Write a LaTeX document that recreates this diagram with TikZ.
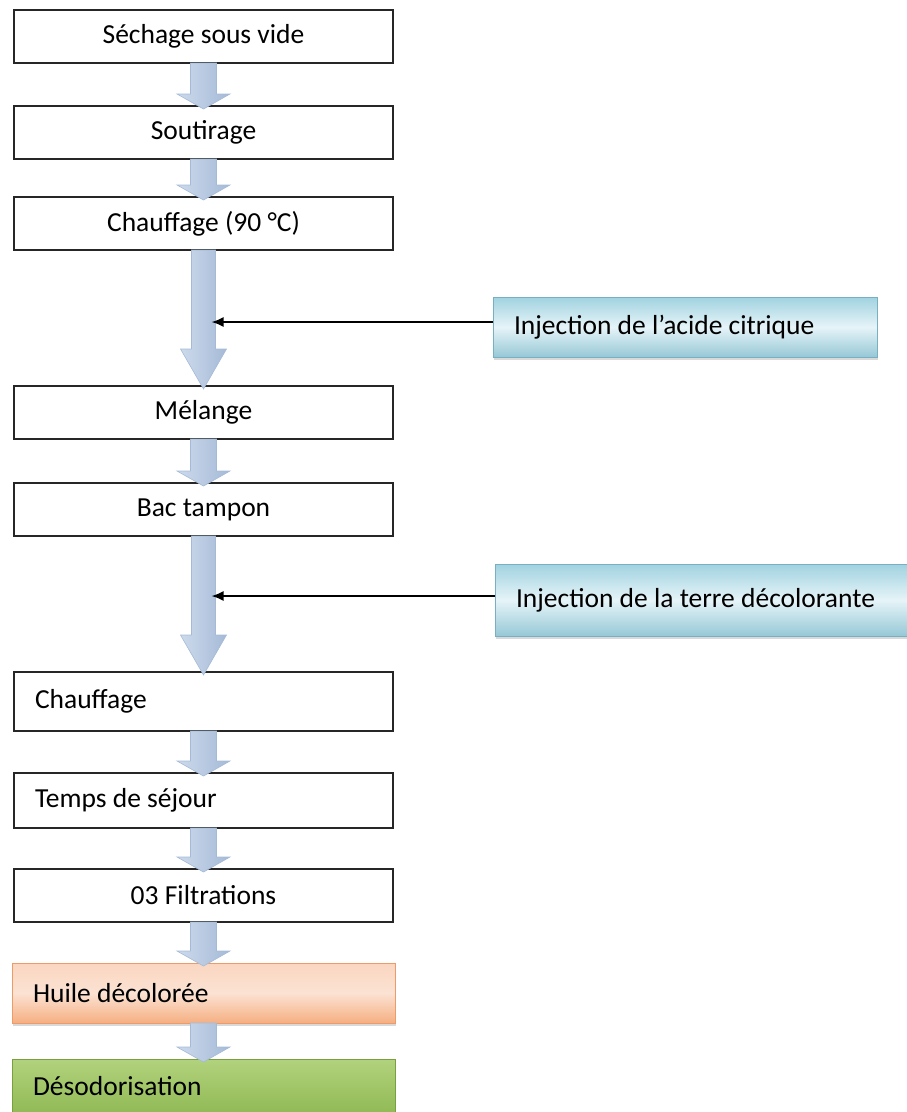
\documentclass[tikz,border=0pt]{standalone}
\usepackage{fontspec}
\setmainfont{Carlito}
\usetikzlibrary{positioning,calc,arrows.meta,shadows}

\definecolor{flowedge}{RGB}{165,186,215}
\definecolor{flowside}{RGB}{205,218,236}
\definecolor{flowmid}{RGB}{244,247,252}
\definecolor{injtop}{RGB}{160,210,224}
\definecolor{injmid}{RGB}{230,244,248}
\definecolor{injbot}{RGB}{150,200,214}
\definecolor{injedge}{RGB}{120,175,195}
\definecolor{huiletop}{RGB}{250,214,192}
\definecolor{huilebot}{RGB}{245,175,130}
\definecolor{huileedge}{RGB}{236,155,105}
\definecolor{desotop}{RGB}{178,210,125}
\definecolor{desobot}{RGB}{145,186,85}
\definecolor{desoedge}{RGB}{120,160,62}

% block arrow from the bottom of one step to the top of the next
% #1 from, #2 to, #3 shaft half width, #4 head half width, #5 head length
\newcommand{\blockflow}[5]{
    \path[flowarrow]
        ($(#1.south)+(-#3,0)$) -- ($(#2.north)+(-#3,#5)$) -- ($(#2.north)+(-#4,#5)$)
        -- ($(#2.north)+(0,-3pt)$)
        -- ($(#2.north)+(#4,#5)$) -- ($(#2.north)+(#3,#5)$) -- ($(#1.south)+(#3,0)$) -- cycle;
}

\begin{document}
\begin{tikzpicture}[
    font=\fontsize{27.5}{32}\selectfont,
    stepbox/.style={draw=black!85,line width=1.3pt,fill=white,minimum width=379pt,minimum height=53pt,inner sep=0pt,outer sep=0pt},
    leftbox/.style={stepbox,align=flush left,text width=337pt},
    injbox/.style={draw=injedge,line width=0.8pt,top color=injtop,bottom color=injbot,middle color=injmid,
        minimum height=60pt,text width=342pt,inner ysep=0pt,inner xsep=21pt,outer sep=0pt,align=flush left,anchor=north west,
        drop shadow={shadow xshift=1pt,shadow yshift=-3pt,opacity=0.3}},
    endbox/.style={line width=0.8pt,minimum width=383pt,inner sep=0pt,outer sep=0pt,text width=341pt,align=flush left,
        drop shadow={shadow xshift=1pt,shadow yshift=-3pt,opacity=0.3}},
    flowarrow/.style={draw=flowedge,line width=0.6pt,left color=flowside,middle color=flowmid,right color=flowedge},
]
    \useasboundingbox (0,0) rectangle (907pt,-1112pt);

    \draw
        node[stepbox] (sechage) at (203.5pt,-36.5pt) {Séchage sous vide}
        node[stepbox,below=43pt of sechage] (soutirage) {Soutirage}
        node[stepbox,below=38pt of soutirage] (chauffe) {Chauffage (90 °C)}
        node[stepbox,below=136pt of chauffe] (melange) {Mélange}
        node[stepbox,below=44pt of melange] (bac) {Bac tampon}
        node[leftbox,minimum height=59pt,below=136pt of bac] (chauffage) {Chauffage}
        node[leftbox,minimum height=55pt,below=42pt of chauffage] (sejour) {Temps de séjour}
        node[stepbox,below=41pt of sejour] (filtre) {03 Filtrations}
        node[endbox,draw=huileedge,top color=huiletop,bottom color=huilebot,middle color=huiletop!70!white,
            minimum height=60pt,below=41pt of filtre] (huile) {Huile décolorée}
        node[endbox,draw=desoedge,top color=desotop,bottom color=desobot,
            minimum height=54pt,below=36pt of huile] (deso) {Désodorisation}

        node[injbox,below right=47pt and 100pt of chauffe.south east] (acide) {Injection de l’acide citrique}
        node[injbox,text width=380pt,minimum height=72pt,below right=28pt and 102pt of bac.south east] (terre) {Injection de la terre décolorante}
    ;

    \blockflow{sechage}{soutirage}{13pt}{26.5pt}{12pt}
    \blockflow{soutirage}{chauffe}{13pt}{26.5pt}{12pt}
    \blockflow{chauffe}{melange}{12pt}{23pt}{37pt}
    \blockflow{melange}{bac}{13pt}{26.5pt}{12pt}
    \blockflow{bac}{chauffage}{12pt}{23pt}{37pt}
    \blockflow{chauffage}{sejour}{13pt}{26.5pt}{12pt}
    \blockflow{sejour}{filtre}{13pt}{26.5pt}{12pt}
    \blockflow{filtre}{huile}{13pt}{26.5pt}{12pt}
    \blockflow{huile}{deso}{13pt}{26.5pt}{12pt}

    \coordinate (acidein) at ($(acide.west -| chauffe.south)+(8pt,5pt)$);
    \coordinate (terrein) at ($(terre.west -| bac.south)+(8pt,4pt)$);
    \draw[-{Latex[length=12pt,width=10pt]},line width=1.8pt] (acide.west |- acidein) -- (acidein);
    \draw[-{Latex[length=12pt,width=10pt]},line width=1.8pt] (terre.west |- terrein) -- (terrein);
\end{tikzpicture}
\end{document}
